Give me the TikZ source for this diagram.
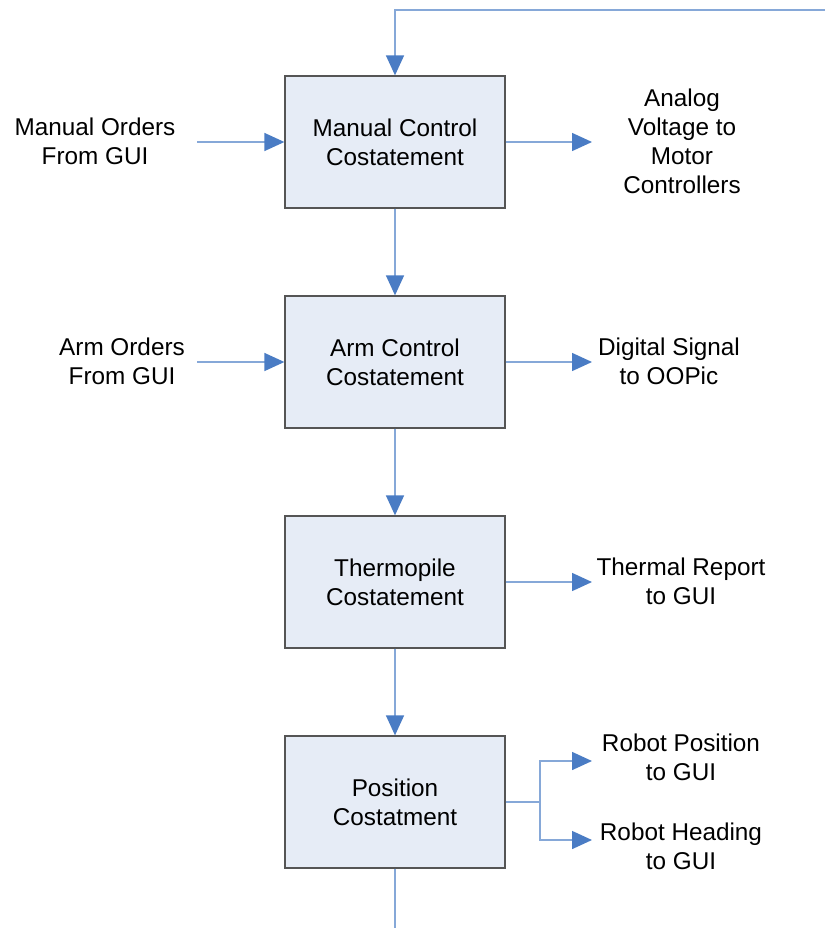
\documentclass[tikz,border=0pt]{standalone}
\usepackage{fontspec}
\setmainfont{Liberation Sans}
\usetikzlibrary{arrows.meta}

\definecolor{boxfill}{HTML}{E6ECF6}
\definecolor{boxline}{HTML}{555555}
\definecolor{wire}{HTML}{86A8D8}
\definecolor{tip}{HTML}{4A7CC4}

\tikzset{
  txt/.style={font=\fontsize{24.3}{29}\selectfont},
  stage/.style={txt, draw=boxline, fill=boxfill, line width=1.3pt,
    minimum width=220pt, minimum height=132pt, inner sep=0pt,
    align=center},
  lbl/.style={txt, align=center, inner sep=0pt},
  wireline/.style={draw=wire, line width=1.5pt},
  flow/.style={wireline, -{Triangle[length=20pt,width=18pt,color=tip]}}
}

\begin{document}
\begin{tikzpicture}[x=1pt,y=-1pt]
\useasboundingbox (0,0) rectangle (825,928);

% main chain of costatements
\node[stage] (m1) at (395,142) {Manual Control\\Costatement};
\node[stage] (m2) at (395,362) {Arm Control\\Costatement};
\node[stage] (m3) at (395,582) {Thermopile\\Costatement};
\node[stage] (m4) at (395,802) {Position\\Costatment};

% inputs
\node[lbl] (in1) at (95,141) {Manual Orders\\From GUI};
\node[lbl] (in2) at (122,361) {Arm Orders\\From GUI};
\coordinate (s1) at (197,142);
\coordinate (s2) at (197,362);

% outputs
\node[lbl] (o1) at (682,141) {Analog\\Voltage to\\Motor\\Controllers};
\node[lbl] (o2) at (669,361) {Digital Signal\\to OOPic};
\node[lbl] (o3) at (681,581) {Thermal Report\\to GUI};
\node[lbl] (o4a) at (681,757) {Robot Position\\to GUI};
\node[lbl] (o4b) at (681,846) {Robot Heading\\to GUI};
\coordinate (t1) at (592,142);
\coordinate (t2) at (592,362);
\coordinate (t3) at (592,582);
\coordinate (t4a) at (592,761);
\coordinate (t4b) at (592,840);
\coordinate (j) at (540,802);

% feedback and exit
\coordinate (fb) at (825,10);
\coordinate (exit) at (395,928);

% connectors
\draw[flow] (fb) -| (m1.north);
\draw[flow] (m1.south) -- (m2.north);
\draw[flow] (m2.south) -- (m3.north);
\draw[flow] (m3.south) -- (m4.north);
\draw[wireline] (m4.south) -- (exit);

\draw[flow] (s1) -- (m1.west);
\draw[flow] (s2) -- (m2.west);

\draw[flow] (m1.east) -- (t1);
\draw[flow] (m2.east) -- (t2);
\draw[flow] (m3.east) -- (t3);
\draw[wireline] (m4.east) -- (j);
\draw[flow] (j) |- (t4a);
\draw[flow] (j) |- (t4b);
\end{tikzpicture}
\end{document}
